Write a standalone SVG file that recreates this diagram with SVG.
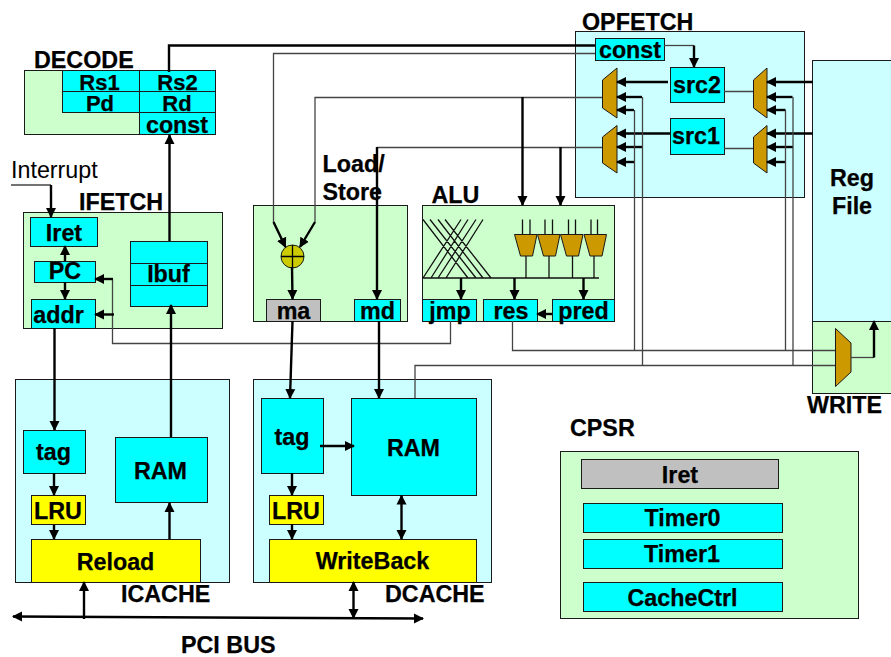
<svg xmlns="http://www.w3.org/2000/svg" width="891" height="657" viewBox="0 0 891 657">
<style>
text{font-family:"Liberation Sans",Arial,sans-serif;font-size:23.3px;font-weight:700;fill:#000;stroke:#000;stroke-width:.25}
.m{text-anchor:middle}
.r{font-weight:400;stroke:none}
.k{font-size:22px}
rect,.mux,circle{stroke:#1a1a1a;stroke-width:1}
.g{fill:#CCFFCC}.lc{fill:#CCFFFF}.c{fill:#00FFFF}.y{fill:#FFFF00}.s{fill:#C0C0C0}
.mux{fill:#CC9900}
.t{fill:none;stroke:#444;stroke-width:1.3}
.b{fill:none;stroke:#000;stroke-width:2.4}
.a{marker-end:url(#h)}
.d{marker-start:url(#hs);marker-end:url(#h)}
</style>
<defs>
<marker id="h" markerUnits="userSpaceOnUse" markerWidth="12" markerHeight="12" refX="9" refY="6" orient="auto"><path d="M0 1L10 6L0 11z" fill="#000"/></marker>
<marker id="hs" markerUnits="userSpaceOnUse" markerWidth="12" markerHeight="12" refX="1" refY="6" orient="auto"><path d="M10 1L0 6L10 11z" fill="#000"/></marker>
</defs>
<g id="decode">
<rect class="g" x="24.500" y="70.500" width="191" height="64"/>
<rect class="c" x="62.500" y="70.500" width="77" height="21"/>
<rect class="c" x="139.500" y="70.500" width="76" height="21"/>
<rect class="c" x="62.500" y="91.500" width="77" height="21"/>
<rect class="c" x="139.500" y="91.500" width="76" height="21"/>
<rect class="c" x="139.500" y="112.500" width="76" height="22"/>
<text x="34" y="68">DECODE</text>
<text class="m k" x="99.500" y="90">Rs1</text>
<text class="m k" x="177.500" y="90">Rs2</text>
<text class="m k" x="100" y="111">Pd</text>
<text class="m k" x="177" y="111">Rd</text>
<text class="m" x="177" y="132.500">const</text>
</g>
<g id="interrupt"><text class="r" x="11" y="178">Interrupt</text></g>
<g id="ifetch">
<rect class="g" x="23.500" y="212.500" width="199" height="116"/>
<rect class="c" x="30.500" y="217.500" width="67" height="29"/>
<rect class="c" x="34.500" y="261.500" width="61" height="21"/>
<rect class="c" x="31.500" y="299.500" width="64" height="29"/>
<rect class="c" x="130.500" y="241.500" width="77" height="22"/>
<rect class="c" x="130.500" y="263.500" width="77" height="22"/>
<rect class="c" x="130.500" y="285.500" width="77" height="21"/>
<text x="79" y="210">IFETCH</text>
<text class="m" x="64" y="240.500">Iret</text>
<text class="m" x="65" y="279">PC</text>
<text class="m" x="58.500" y="322.500">addr</text>
<text class="m" x="168.500" y="282">Ibuf</text>
</g>
<g id="loadstore">
<rect class="g" x="253.500" y="205.500" width="154" height="116"/>
<rect class="s" x="266.500" y="299.500" width="54" height="22"/>
<rect class="c" x="354.500" y="299.500" width="46" height="22"/>
<circle cx="292.500" cy="256.500" r="11.500" fill="#CCCC00"/>
<path class="t" style="stroke:#000" d="M281 256.500H304M292.500 245V268"/>
<text x="322.500" y="172">Load/</text>
<text x="322.500" y="200">Store</text>
<text class="m" x="293.500" y="319">ma</text>
<text class="m" x="377.500" y="319">md</text>
</g>
<g id="alu">
<rect class="g" x="422.500" y="205.500" width="192" height="116"/>
<rect class="c" x="422.500" y="299.500" width="54" height="22"/>
<rect class="c" x="483.500" y="299.500" width="54" height="22"/>
<rect class="c" x="552.500" y="299.500" width="62" height="22"/>
<path class="t" style="stroke:#111" d="M423 219.500L468 278M430 219.500L476 278M438 219.500L483 278M445 219.500L491 278M461 219.500L423 278M468 219.500L431 278M476 219.500L438 278M483 219.500L446 278M423 278H599M522.500 219.500V234M530 219.500V234M545 219.500V234M552.500 219.500V234M568.500 219.500V234M575.500 219.500V234M591 219.500V234M597.500 219.500V234M526 256V278M549 256V278M572.500 256V278M594 256V278"/>
<path class="mux" d="M514.500 234.500H537L532.500 256H520.500z"/>
<path class="mux" d="M537.500 234.500H560L555.500 256H543.500z"/>
<path class="mux" d="M560.500 234.500H583L578.500 256H566.500z"/>
<path class="mux" d="M584 234.500H606.500L602 256H590z"/>
<text x="431.500" y="203">ALU</text>
<text class="m" x="450" y="319">jmp</text>
<text class="m" x="511" y="319">res</text>
<text class="m" x="583.500" y="319">pred</text>
</g>
<g id="opfetch">
<rect class="lc" x="575.500" y="31.500" width="229" height="166"/>
<rect class="c" x="595.500" y="38.500" width="69" height="22"/>
<rect class="c" x="670.500" y="67.500" width="54" height="35"/>
<rect class="c" x="670.500" y="118.500" width="54" height="36"/>
<path class="mux" d="M617 68V118L602.500 108V80z"/>
<path class="mux" d="M617 125.500V173L602.500 163V137z"/>
<path class="mux" d="M767 68V118L753.500 108V80z"/>
<path class="mux" d="M767 125.500V173L753.500 163V137z"/>
<text x="582" y="29.500">OPFETCH</text>
<text class="m" x="630" y="58">const</text>
<text class="m" x="697" y="93">src2</text>
<text class="m" x="696" y="144">src1</text>
</g>
<g id="regfile">
<rect class="lc" x="812.500" y="60.500" width="80" height="261"/>
<text class="m" x="852" y="186">Reg</text>
<text class="m" x="852" y="214">File</text>
</g>
<g id="write">
<rect class="g" x="812.500" y="321.500" width="80" height="72"/>
<path class="mux" d="M835.500 328.500L851 343V372L835.500 386.500z"/>
<text x="807" y="413">WRITE</text>
</g>
<g id="icache">
<rect class="lc" x="15.500" y="379.500" width="214" height="203"/>
<rect class="c" x="23.500" y="430.500" width="62" height="43"/>
<rect class="c" x="115.500" y="437.500" width="92" height="65"/>
<rect class="y" x="31.500" y="495.500" width="54" height="29"/>
<rect class="y" x="31.500" y="539.500" width="169" height="43"/>
<text class="m" x="53.500" y="460">tag</text>
<text class="m" x="160.500" y="478.500">RAM</text>
<text class="m" x="58" y="519">LRU</text>
<text class="m" x="115.500" y="570">Reload</text>
<text x="121" y="602">ICACHE</text>
</g>
<g id="dcache">
<rect class="lc" x="253.500" y="379.500" width="238" height="203"/>
<rect class="c" x="261.500" y="398.500" width="62" height="75"/>
<rect class="c" x="351.500" y="398.500" width="125" height="97"/>
<rect class="y" x="269.500" y="495.500" width="54" height="29"/>
<rect class="y" x="269.500" y="539.500" width="207" height="43"/>
<text class="m" x="292" y="445">tag</text>
<text class="m" x="413.500" y="456">RAM</text>
<text class="m" x="296" y="519">LRU</text>
<text class="m" x="372.500" y="569">WriteBack</text>
<text x="385" y="602">DCACHE</text>
</g>
<g id="cpsr">
<rect class="g" x="560.500" y="451.500" width="298" height="167"/>
<rect class="s" x="581.500" y="459.500" width="197" height="29"/>
<rect class="c" x="583.500" y="503.500" width="199" height="29"/>
<rect class="c" x="583.500" y="539.500" width="199" height="29"/>
<rect class="c" x="583.500" y="582.500" width="199" height="29"/>
<text x="570" y="436">CPSR</text>
<text class="m" x="680" y="483">Iret</text>
<text class="m" x="682.500" y="526">Timer0</text>
<text class="m" x="682" y="562">Timer1</text>
<text class="m" x="682.500" y="606">CacheCtrl</text>
</g>
<g id="pcibus"><text x="181" y="653">PCI BUS</text></g>
<g id="connectors">
<path class="b" d="M169 72V45.500H595"/>
<path class="t" d="M595 53.500H273.500V222"/>
<path class="t" d="M664 45.500H694"/>
<path class="b a" d="M694 45.500V67"/>
<path class="t" d="M602 97.500H315V222"/>
<path class="t" d="M602 147.500H377"/>
<path class="t" d="M724 91.500H753M724 148.500H753"/>
<path class="b a" d="M668 82H617"/><path class="b a" d="M642 97H617"/><path class="b a" d="M634 110H617"/>
<path class="b a" d="M670 133.500H617"/><path class="b a" d="M642 147H617"/><path class="b a" d="M634 162H617"/>
<path class="b a" d="M813 82H767"/><path class="b a" d="M792.500 97H767"/><path class="b a" d="M785.500 110H767"/>
<path class="b a" d="M813 133.500H767"/><path class="b a" d="M793 147H767"/><path class="b a" d="M785.500 162H767"/>
<path class="t" d="M642.500 97V365M634.500 110V350M793 97V365M785.500 110V350"/>
<path class="t" d="M512.500 321V350.500H835M415 398V365.500H835"/>
<path class="t" d="M851 357.500H874"/>
<path class="b a" d="M874 357.500V321"/>
<path class="b a" d="M522.500 97V205"/>
<path class="b a" d="M560.500 147V205"/>
<path class="b a" d="M273.500 222L285.500 247"/>
<path class="b a" d="M315 222L300 247"/>
<path class="b a" d="M292 267L292.500 299"/>
<path class="b a" d="M377 147V299"/>
<path class="b a" d="M461 278V299"/><path class="b a" d="M514.500 278V299"/><path class="b a" d="M583.500 278V299"/>
<path class="b a" d="M552 314H537"/>
<path class="t" d="M11 185H51"/>
<path class="b a" d="M51 185V217"/>
<path class="b a" d="M169.500 241V135"/>
<path class="b a" d="M65 261V246"/>
<path class="b a" d="M65 282V299"/>
<path class="t" d="M450.500 321V343.500H112.500V279"/>
<path class="b a" d="M113 279H95"/>
<path class="b a" d="M114 314.500H95"/>
<path class="b a" d="M171 437V305"/>
<path class="b a" d="M54.500 328V430"/>
<path class="b a" d="M54 473V495"/>
<path class="b a" d="M54 525V539"/>
<path class="b a" d="M169.500 539V503"/>
<path class="b a" d="M84 619V582"/>
<path class="b d" d="M13 616.500L423 618.500"/>
<path class="b d" d="M353.500 582V618"/>
<path class="b a" d="M292.500 321L290 398"/>
<path class="b a" d="M379 321V398"/>
<path class="b a" d="M320 446H354"/>
<path class="b a" d="M292 473V495"/>
<path class="b a" d="M292 524V539"/>
<path class="b d" d="M401.500 495.500V539"/>
</g>
</svg>
